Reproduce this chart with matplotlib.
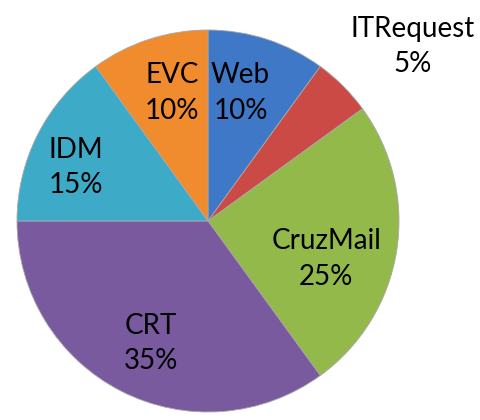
import matplotlib.pyplot as plt

labels = ["Web", "ITRequest", "CruzMail", "CRT", "IDM", "EVC"]
shares = [10, 5, 25, 35, 15, 10]
colors = ["#3F78C6", "#CB4A46", "#93B94A", "#7A5A9E", "#3DAAC7", "#F08B2E"]

# label anchor points (data coords, pie radius = 1)
label_pos = [(0.17, 0.67), (1.07, 0.915), (0.62, -0.20),
             (-0.30, -0.64), (-0.69, 0.28), (-0.19, 0.67)]

plt.rcParams['font.family'] = ['Lato', 'DejaVu Sans']

fig = plt.figure(figsize=(4.8, 4.2), dpi=100)
ax = fig.add_axes([17 / 480, 8 / 420, 382 / 480, 382 / 420])

ax.pie(shares, colors=colors, startangle=90, counterclock=False, radius=1,
       wedgeprops=dict(edgecolor="#a8a8a8", linewidth=0.6))

for name, val, (x, y) in zip(labels, shares, label_pos):
    ax.text(x, y, f"{name}\n{val}%", ha="center", va="center",
            fontsize=20, color="black", linespacing=1.45)

ax.set_xlim(-1, 1)
ax.set_ylim(-1, 1)
ax.set_aspect("equal")
ax.axis("off")

fig.savefig("out.png", dpi=100)
